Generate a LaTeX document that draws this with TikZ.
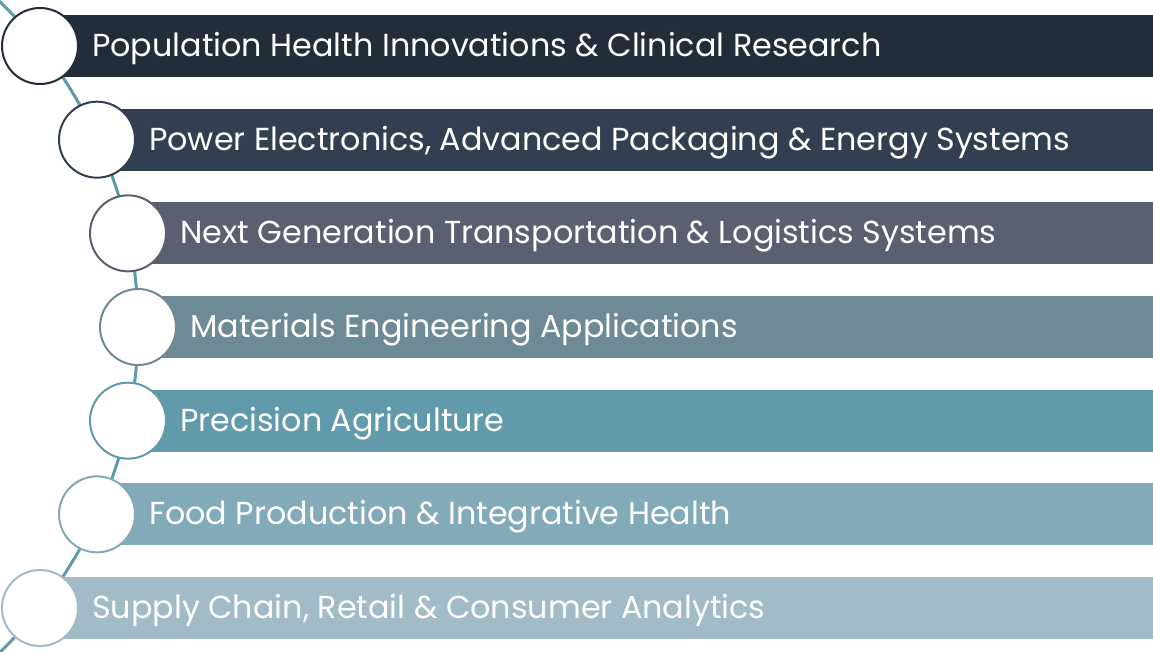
\documentclass[tikz,border=0pt]{standalone}
\usepackage{fontspec}
\setmainfont{Poppins}
\definecolor{c1}{HTML}{222D3A}
\definecolor{c2}{HTML}{323F50}
\definecolor{c3}{HTML}{5A6070}
\definecolor{c4}{HTML}{6E8A94}
\definecolor{c5}{HTML}{619AAB}
\definecolor{c6}{HTML}{82AAB8}
\definecolor{c7}{HTML}{A1BBC7}
\definecolor{arcc}{HTML}{5F9AAB}
\tikzset{
  dot/.style={circle, draw=#1, line width=2pt, fill=white, minimum size=76pt, inner sep=0pt},
  bar/.style={fill=#1, draw=none},
  lbl/.style={anchor=base west, text=white, font=\fontsize{31.8}{34}\selectfont, inner sep=0pt},
}
\begin{document}
\begin{tikzpicture}[x=1pt,y=-1pt]
\useasboundingbox (0,0) rectangle (1153,652);
% arc
\begin{scope}
\clip (0,0) rectangle (1153,652);
\draw[arcc, line width=3pt] (-314,327) circle[radius=452];
\end{scope}
\foreach \i/\cx/\col/\txt in {
  0/40/c1/{Population Health Innovations \& Clinical Research},
  1/97/c2/{Power Electronics, Advanced Packaging \& Energy Systems},
  2/128/c3/{Next Generation Transportation \& Logistics Systems},
  3/138/c4/{Materials Engineering Applications},
  4/128/c5/{Precision Agriculture},
  5/97/c6/{Food Production \& Integrative Health},
  6/40/c7/{Supply Chain, Retail \& Consumer Analytics}} {
  \pgfmathsetmacro{\cy}{46+93.67*\i}
  \fill[bar=\col] (\cx,\cy-31) rectangle (1153,\cy+31);
  \node[dot=\col] (d\i) at (\cx,\cy) {};
  \node[lbl] (t\i) at (\cx+52,\cy+10.5) {\txt};
}
\end{tikzpicture}
\end{document}
